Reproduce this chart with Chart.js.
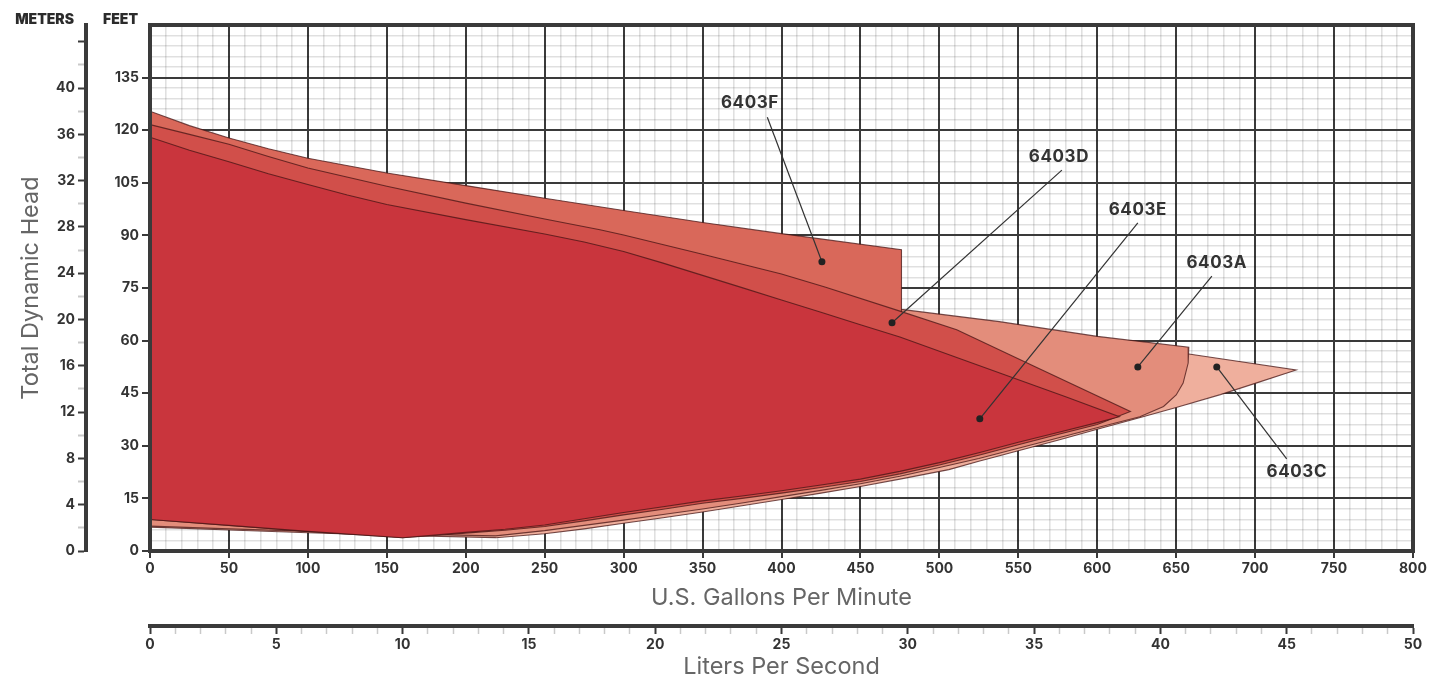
<!DOCTYPE html>
<html>
<head>
<meta charset="utf-8">
<title>6403 Series Performance Curves</title>
<script src="https://cdn.jsdelivr.net/npm/chart.js@4.4.1/dist/chart.umd.min.js"></script>
<style>
  html, body { margin: 0; padding: 0; background: #fff; }
  #wrap { width: 1436px; height: 685px; position: relative; }
</style>
</head>
<body>
<div id="wrap"><canvas id="pumpChart"></canvas></div>
<script>
// Operating envelopes, [US GPM, feet of head], top edge left->right then bottom edge back
const pump6403E = [[0,118],[25,114.3],[50,111],[75,107.6],[100,104.5],[125,101.5],[150,98.8],[200,94.5],[250,90.4],[275,88.1],[300,85.4],[325,82.1],[350,78.6],[375,75.1],[400,71.6],[425,68.1],[450,64.5],[475,61],[540,50.5],[580,44],[614,38.3],
  [600,36.6],[575,33.8],[550,31],[525,28],[500,25.2],[475,22.7],[450,20.5],[425,18.8],[400,17.2],[375,15.7],[350,14.3],[325,12.6],[300,11],[275,9.2],[250,7.4],[225,6.2],[200,5.3],[160,3.8],[100,5.6],[50,7.3],[0,9]];
const pump6403D = [[0,121.6],[25,118.8],[50,116],[75,112.5],[100,109.2],[150,104],[200,99.2],[250,94.7],[285,91.6],[300,90.1],[350,84.6],[400,79],[428,75.2],[475,68.4],[511,63.1],[560,52.7],[621,39.8],
  [600,36.1],[575,33.2],[550,30.3],[525,27.3],[500,24.5],[475,22],[450,19.8],[425,18.1],[400,16.5],[375,15],[350,13.6],[325,11.9],[300,10.3],[275,8.6],[250,7],[225,5.9],[200,5.1],[160,3.8],[100,5.6],[50,7.3],[0,9]];
const pump6403F = [[0,125.4],[25,121.3],[50,117.8],[75,114.7],[100,112],[150,107.8],[200,104.2],[250,100.6],[300,97.1],[350,93.7],[400,90.5],[476,85.9],
  [476,66],[300,80],[0,100]];
const pump6403A = [[0,121],[100,108.7],[200,98.7],[300,89],[400,78.5],[476,68.9],[538,65.4],[600,61.2],[658,58.1],
  [657.6,53.6],[654.4,47.9],[650,44.5],[642,41.2],[627,38.3],[601,35.3],[575,32.2],[550,29.3],[525,26.4],[500,23.8],[475,21.3],[450,19.2],[425,17.3],[400,15.5],[375,13.7],[350,12],[325,10.4],[300,8.8],[275,7.3],[250,5.8],[219,4.3],[150,4.9],[100,5.6],[50,6.3],[0,7.1]];
const pump6403C = [[0,120],[100,108],[200,98],[300,88.5],[400,78],[476,68.5],[538,64.8],[600,60.2],[658,56.2],[726,51.6],
  [700,47.8],[678,44.6],[650,40.9],[625,37.8],[600,34.7],[575,31.6],[550,28.6],[525,25.6],[506,23.2],[475,20.5],[450,18.4],[425,16.5],[400,14.7],[375,12.9],[350,11.1],[325,9.5],[300,7.9],[275,6.3],[250,4.9],[219,3.8],[150,4.5],[100,5.2],[50,6],[0,6.8]];

// Callouts: model name, where the label sits, where the leader starts, where its dot lands
const calloutNames = ['6403F', '6403D', '6403E', '6403A', '6403C'];
const calloutLabels = [[380,127.7],[575.7,112.3],[625.7,97.2],[675.7,82.1],[726.4,22.5]];
const calloutStarts = [[391,123.7],[577.6,108.6],[625.7,93.6],[672.6,78.4],[720,26.3]];
const calloutDots = [[425.6,82.5],[470,65.1],[525.6,37.7],[625.7,52.5],[675.7,52.5]];

// Axis ranges
const gpmRange = [0, 800];
const feetRange = [0, 150];
const metersRange = [0, 45.45];
const lpsRange = [0, 50];

const MAJOR = '#3a3a3a';
const MINOR = 'rgba(0,0,0,0.12)';
const MINOR_TICK = '#c9c9c9';
const tickFont = { family: 'Inter', size: 14, weight: 'bold' };
const titleFont = { family: 'Inter', size: 23.5, weight: 'normal' };

function isMul(v, n) {
    const r = Math.round(v);
    return Math.abs(v - r) < 1e-6 && r % n === 0;
}

const toPts = arr => arr.map(p => ({ x: p[0], y: p[1] }));

function envelope(label, data, color, order) {
    return {
        label,
        data: toPts(data),
        order,
        backgroundColor: color,
        borderColor: 'rgba(70,20,20,0.75)',
        borderWidth: 1.1,
        fill: 'shape',
        tension: 0,
        pointRadius: 0
    };
}

const calloutSets = calloutNames.map((name, i) => ({
    label: name + ' callout',
    data: toPts([calloutStarts[i], calloutDots[i]]),
    order: 0,
    borderColor: '#333',
    borderWidth: 1.2,
    fill: false,
    pointRadius: [0, 3.5],
    pointBackgroundColor: '#222',
    pointBorderWidth: 0
}));

// frame round the plot, the unit headers and the model names
const framePlugin = {
    id: 'frame',
    afterDraw(chart) {
        const { ctx, chartArea: a, scales } = chart;
        ctx.save();
        ctx.lineWidth = 4;
        ctx.strokeStyle = MAJOR;
        ctx.strokeRect(a.left, a.top, a.right - a.left, a.bottom - a.top);

        ctx.fillStyle = '#2b2b2b';
        ctx.textBaseline = 'middle';
        ctx.textAlign = 'right';
        ctx.font = '900 14px Inter';
        ctx.fillText('METERS', scales.y2.right - 12, a.top - 5);
        ctx.fillText('FEET', scales.y.right - 12, a.top - 5);

        ctx.textAlign = 'center';
        ctx.font = 'bold 17px Inter';
        ctx.letterSpacing = '0.6px';
        ctx.fillStyle = '#333';
        calloutNames.forEach((name, i) => {
            const [gx, fy] = calloutLabels[i];
            ctx.fillText(name, scales.x.getPixelForValue(gx), scales.y.getPixelForValue(fy));
        });
        ctx.restore();
    }
};

const ctx = document.getElementById('pumpChart').getContext('2d');
const pumpChart = new Chart(ctx, {
    type: 'line',
    data: {
        datasets: [
            ...calloutSets,
            envelope('6403E', pump6403E, '#c9353d', 1),
            envelope('6403D', pump6403D, '#d14f4a', 2),
            envelope('6403F', pump6403F, '#d9685a', 3),
            envelope('6403A', pump6403A, '#e38d7b', 4),
            envelope('6403C', pump6403C, '#efaf9d', 5)
        ]
    },
    options: {
        responsive: true,
        maintainAspectRatio: false,
        animation: false,
        layout: { padding: { top: 25, right: 23, left: 0, bottom: 0 } },
        plugins: {
            legend: { display: false },
            tooltip: { enabled: false }
        },
        scales: {
            x: {
                type: 'linear', position: 'bottom', weight: 0, z: 1,
                min: gpmRange[0], max: gpmRange[1],
                border: { display: false },
                grid: {
                    color: c => isMul(c.tick.value, 50) ? MAJOR : MINOR,
                    lineWidth: c => isMul(c.tick.value, 50) ? 2 : 1.6,
                    tickColor: c => isMul(c.tick.value, 50) ? MAJOR : 'transparent',
                    tickWidth: 2,
                    tickLength: 7
                },
                ticks: {
                    stepSize: 10, autoSkip: false, maxRotation: 0, padding: 2,
                    color: '#333', font: tickFont,
                    callback: v => isMul(v, 50) ? v : ''
                },
                title: { display: true, text: 'U.S. Gallons Per Minute', color: '#666', font: titleFont, padding: { top: 0, bottom: 14 } },
                afterFit: s => { s.height = 75; }
            },
            x2: {
                type: 'linear', position: 'bottom', weight: 1,
                min: lpsRange[0], max: lpsRange[1],
                border: { display: true, color: MAJOR, width: 4 },
                grid: {
                    drawOnChartArea: false,
                    tickColor: c => isMul(c.tick.value, 5) ? MAJOR : MINOR_TICK,
                    tickWidth: c => isMul(c.tick.value, 5) ? 2 : 1.5,
                    tickLength: 8
                },
                ticks: {
                    stepSize: 1, autoSkip: false, maxRotation: 0, padding: 2,
                    color: '#333', font: tickFont,
                    callback: v => isMul(v, 5) ? v : ''
                },
                title: { display: true, text: 'Liters Per Second', color: '#666', font: titleFont, padding: { top: 0, bottom: 4 } },
                afterFit: s => { s.height = 59; }
            },
            y: {
                type: 'linear', position: 'left', weight: 0, z: 1,
                min: feetRange[0], max: feetRange[1],
                border: { display: false },
                grid: {
                    color: c => isMul(c.tick.value, 15) ? MAJOR : MINOR,
                    lineWidth: c => isMul(c.tick.value, 15) ? 2 : 1.6,
                    tickColor: c => isMul(c.tick.value, 15) && c.tick.value < 150 ? MAJOR : 'transparent',
                    tickWidth: 2,
                    tickLength: 8
                },
                ticks: {
                    stepSize: 3, autoSkip: false, padding: 3,
                    color: '#333', font: tickFont,
                    callback: v => isMul(v, 15) && v < 150 ? v : ''
                },
                afterFit: s => { s.width = 64; }
            },
            y2: {
                type: 'linear', position: 'left', weight: 1,
                min: metersRange[0], max: metersRange[1],
                border: { display: true, color: MAJOR, width: 4 },
                grid: {
                    drawOnChartArea: false,
                    tickColor: c => isMul(c.tick.value, 4) ? MAJOR : (isMul(c.tick.value, 2) ? MINOR_TICK : 'transparent'),
                    tickWidth: 2,
                    tickLength: 8
                },
                ticks: {
                    stepSize: 2, autoSkip: false, padding: 3,
                    color: '#333', font: tickFont,
                    callback: v => isMul(v, 4) && v <= 40 ? v : ''
                },
                title: { display: true, text: 'Total Dynamic Head', color: '#666', font: titleFont, padding: { top: 17, bottom: 0 } },
                afterFit: s => { s.width = 86; }
            }
        }
    },
    plugins: [framePlugin]
});
</script>
</body>
</html>
